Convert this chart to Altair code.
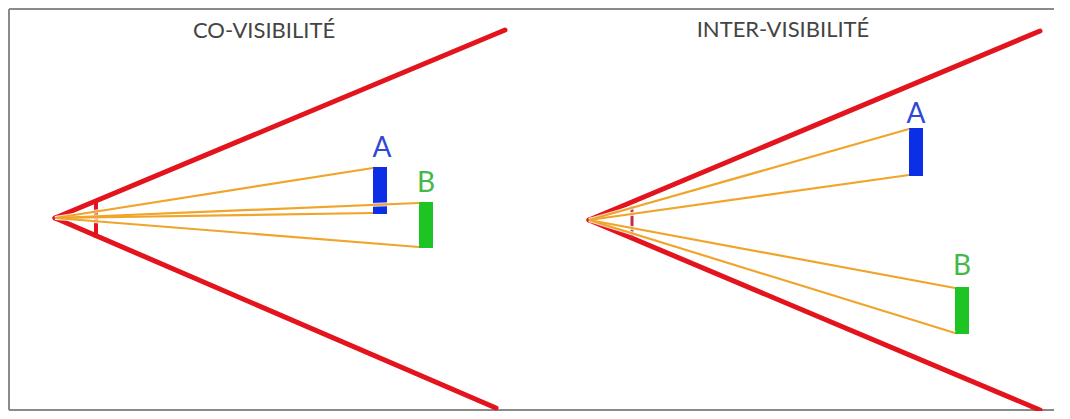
import altair as alt
import pandas as pd

# --- diagram values (picture coordinates, y grows downward) ---
panel_titles = ["CO-VISIBILITÉ", "INTER-VISIBILITÉ"]
title_x = [264, 783]
title_y = [38, 37]

eye_x = [55, 589]
eye_y = [218, 220]

# field-of-view cone ends (upper, lower) for each panel
cone_upper_x = [505, 1040]
cone_upper_y = [30, 31]
cone_lower_x = [496, 1040]
cone_lower_y = [408, 410]

# angle marks near the eye
arc_x = [96, 632]
arc_y_top = [201, 206]
arc_y_bot = [238, 238]

# targets: panel, name, left x, right x, top y, bottom y
target_panel = [0, 0, 1, 1]
target_name = ["A", "B", "A", "B"]
target_x1 = [373, 419, 909, 955]
target_x2 = [387, 433, 923, 969]
target_top = [167, 202, 128, 287]
target_bot = [214, 248, 176, 334]
label_x = [382, 426, 916, 962]
label_y = [157, 192, 123, 275]

# frame
frame_left, frame_top, frame_right, frame_bottom = 9, 9, 1080, 410

X0, X1 = 8, 1054
Y0, Y1 = 8, 411
W, H = X1 - X0, Y1 - Y0

xs = alt.Scale(domain=[X0, X1], nice=False, zero=False)
ys = alt.Scale(domain=[Y0, Y1], nice=False, zero=False, reverse=True)


def xq(f):
    return alt.X(f, type="quantitative", scale=xs, axis=None)


def yq(f):
    return alt.Y(f, type="quantitative", scale=ys, axis=None)


# frame lines
frame_df = pd.DataFrame({
    "x": [frame_left, frame_left, frame_left],
    "y": [frame_top, frame_top, frame_bottom],
    "x2": [frame_right, frame_left, frame_right],
    "y2": [frame_top, frame_bottom, frame_bottom],
})
frame = alt.Chart(frame_df).mark_rule(color="#8a8a8a", strokeWidth=2).encode(
    x=xq("x"), y=yq("y"), x2="x2", y2="y2")

# cones
cone_rows = []
for i in range(2):
    cone_rows.append({"x": eye_x[i], "y": eye_y[i], "x2": cone_upper_x[i], "y2": cone_upper_y[i]})
    cone_rows.append({"x": eye_x[i], "y": eye_y[i], "x2": cone_lower_x[i], "y2": cone_lower_y[i]})
cone_df = pd.DataFrame(cone_rows)
cones = alt.Chart(cone_df).mark_rule(color="#e3141d", strokeWidth=5, strokeCap="round").encode(
    x=xq("x"), y=yq("y"), x2="x2", y2="y2")

# angle marks
arc_df = pd.DataFrame({"x": arc_x, "y": arc_y_top, "x2": arc_x, "y2": arc_y_bot,
                       "c": ["#e3141d", "#c22a45"], "w": [4, 3]})
arcs = alt.Chart(arc_df).mark_rule().encode(
    x=xq("x"), y=yq("y"), x2="x2", y2="y2",
    color=alt.Color("c:N", scale=None),
    strokeWidth=alt.StrokeWidth("w:Q", scale=None))

# sight rays
ray_rows = []
for k in range(len(target_name)):
    p = target_panel[k]
    for yy in (target_top[k] + 1, target_bot[k] - 1):
        ray_rows.append({"x": eye_x[p], "y": eye_y[p], "x2": target_x1[k], "y2": yy})
ray_df = pd.DataFrame(ray_rows)
rays_halo = alt.Chart(ray_df).mark_rule(color="white", strokeWidth=4, opacity=0.8).encode(
    x=xq("x"), y=yq("y"), x2="x2", y2="y2")
rays = alt.Chart(ray_df).mark_rule(color="#f0a52a", strokeWidth=2.2).encode(
    x=xq("x"), y=yq("y"), x2="x2", y2="y2")

# target bars
bar_colors = {"A": "#0b2ee6", "B": "#1ec424"}
text_colors = {"A": "#3048d6", "B": "#45b848"}
tgt_df = pd.DataFrame({
    "x": target_x1, "x2": target_x2, "y": target_top, "y2": target_bot,
    "name": target_name,
    "bc": [bar_colors[n] for n in target_name],
    "tc": [text_colors[n] for n in target_name],
    "lx": label_x, "ly": label_y,
})
bars = alt.Chart(tgt_df).mark_rect().encode(
    x=xq("x"), x2="x2", y=yq("y"), y2="y2",
    color=alt.Color("bc:N", scale=None))

labels = alt.Chart(tgt_df).mark_text(font="Lato", fontSize=28, align="center",
                                     baseline="alphabetic").encode(
    x=xq("lx"), y=yq("ly"), text="name:N",
    color=alt.Color("tc:N", scale=None))

title_df = pd.DataFrame({"x": title_x, "y": title_y, "t": panel_titles})
titles = alt.Chart(title_df).mark_text(font="Lato", fontSize=22, align="center",
                                       baseline="alphabetic", color="#444444").encode(
    x=xq("x"), y=yq("y"), text="t:N")

chart = alt.layer(frame, cones, arcs, bars, rays_halo, rays, labels, titles).properties(
    width=W, height=H, padding=0, autosize="none", background="white"
).configure_view(strokeWidth=0, stroke="transparent")

chart.save("out.html", embed_options={"renderer": "svg", "actions": False})
